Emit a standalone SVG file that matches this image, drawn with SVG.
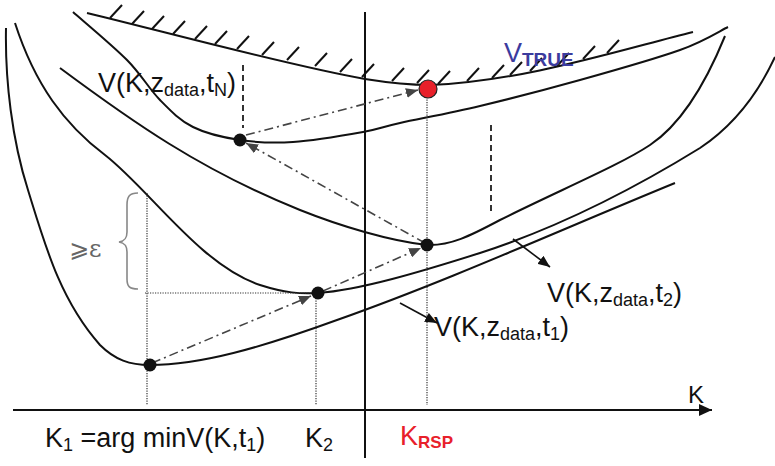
<svg xmlns="http://www.w3.org/2000/svg" width="775" height="466" viewBox="0 0 775 466">
<defs>
<marker id="ahg" viewBox="0 0 12 10" refX="12" refY="5" markerWidth="12" markerHeight="10" markerUnits="userSpaceOnUse" orient="auto"><path d="M0,0 L12,5 L0,10 z" fill="#444"/></marker>
<marker id="ahb" viewBox="0 0 12 10" refX="12" refY="5" markerWidth="12" markerHeight="10" markerUnits="userSpaceOnUse" orient="auto"><path d="M0,0 L12,5 L0,10 z" fill="#111"/></marker>
<marker id="aha" viewBox="0 0 13 12" refX="13" refY="6" markerWidth="13" markerHeight="12" markerUnits="userSpaceOnUse" orient="auto"><path d="M0,0 L13,6 L0,12 z" fill="#111"/></marker>
</defs>
<style>
.curve{fill:none;stroke:#111;stroke-width:2}
.axis{stroke:#111;stroke-width:2;fill:none}
.dd{fill:none;stroke:#444;stroke-width:1.6;stroke-dasharray:9 4 2 4}
.dotl{fill:none;stroke:#333;stroke-width:1.2;stroke-dasharray:1.2 1.3}
.dash{fill:none;stroke:#333;stroke-width:2;stroke-dasharray:6 4}
.hatch{stroke:#111;stroke-width:2}
.pt{fill:#111}
.t{font-family:"Liberation Sans",Arial,sans-serif;font-size:27px;fill:#111}
.s{font-size:18px}
.lab{stroke:#111;stroke-width:1.6;fill:none}
</style>

<g id="axes">
<line class="axis" x1="13" y1="410" x2="712" y2="410" marker-end="url(#aha)"/>
<line class="axis" x1="365" y1="12" x2="365" y2="458"/>
</g>

<g id="v-true">
<path class="curve" d="M87,13 C150,28 290,66 365,79 C390,83 410,85 430,85 C520,82 620,50 693,32"/>
<g id="hatches">
<line class="hatch" x1="110" y1="18" x2="122" y2="5"/>
<line class="hatch" x1="132" y1="24" x2="144" y2="11"/>
<line class="hatch" x1="152" y1="29" x2="164" y2="16"/>
<line class="hatch" x1="173" y1="34" x2="185" y2="21"/>
<line class="hatch" x1="195" y1="39" x2="207" y2="26"/>
<line class="hatch" x1="215" y1="44" x2="227" y2="31"/>
<line class="hatch" x1="237" y1="49" x2="249" y2="36"/>
<line class="hatch" x1="262" y1="55" x2="274" y2="42"/>
<line class="hatch" x1="287" y1="60" x2="299" y2="47"/>
<line class="hatch" x1="315" y1="66" x2="327" y2="53"/>
<line class="hatch" x1="340" y1="72" x2="352" y2="59"/>
<line class="hatch" x1="362" y1="77" x2="374" y2="64"/>
<line class="hatch" x1="392" y1="81" x2="404" y2="68"/>
<line class="hatch" x1="417" y1="83" x2="429" y2="70"/>
<line class="hatch" x1="438" y1="84" x2="450" y2="71"/>
<line class="hatch" x1="467" y1="81" x2="479" y2="68"/>
<line class="hatch" x1="492" y1="78" x2="504" y2="65"/>
<line class="hatch" x1="510" y1="75" x2="522" y2="62"/>
<line class="hatch" x1="530" y1="71" x2="542" y2="58"/>
<line class="hatch" x1="557" y1="66" x2="569" y2="53"/>
<line class="hatch" x1="583" y1="59" x2="595" y2="46"/>
<line class="hatch" x1="607" y1="53" x2="619" y2="40"/>
</g>
</g>

<g id="curve-tN">
<path class="curve" d="M73,12 C82,20 112.5,45.3 127,60 C141.5,74.7 149,88.8 160,100 C171,111.2 179.7,120.3 193,127 C206.3,133.7 223.3,137.5 240,140 C256.7,142.5 272.5,143.3 293,142 C313.5,140.7 345.2,135.2 363,132 C380.8,128.8 380.5,127.3 400,123 C419.5,118.7 450,113.2 480,106 C510,98.8 546.7,89.3 580,80 C613.3,70.7 655.3,58.8 680,50 C704.7,41.2 720,30.8 728,27"/>
</g>

<g id="curve-t3">
<path class="curve" d="M60,68 C130,120 200,170 300,210 C340,226 390,241 427,245 C450,246 470,236 500,220 C560,190 620,165 650,145 C680,125 705,85 725,36"/>
</g>

<g id="curve-t2">
<path class="curve" d="M15,23 C35,85 65,125 105,155 C150,190 200,265 260,285 C285,293 300,294 318,293 C360,290 420,272 480,253 C560,227 640,185 700,148 C730,128 755,100 775,57"/>
</g>

<g id="curve-t1">
<path class="curve" d="M6,28 C5,80 12,140 28,190 C45,245 60,300 100,345 C115,360 130,365 150,365 C200,365 260,348 337,320 C450,280 560,230 675,183"/>
</g>

<g id="guides">
<line class="dotl" x1="147" y1="193" x2="147" y2="405"/>
<line class="dotl" x1="145" y1="293" x2="316" y2="293"/>
<line class="dotl" x1="316" y1="293" x2="316" y2="405"/>
<line class="dotl" x1="427" y1="97" x2="427" y2="405"/>
<line class="dash" x1="243" y1="65" x2="243" y2="128"/>
<line class="dash" x1="491" y1="125" x2="491" y2="212"/>
</g>

<g id="connectors">
<line class="dd" x1="152" y1="363" x2="311" y2="296" marker-end="url(#ahg)"/>
<line class="dd" x1="323" y1="291" x2="421" y2="248" marker-end="url(#ahg)"/>
<line class="dd" x1="425" y1="243" x2="246" y2="143" marker-end="url(#ahg)"/>
<line class="dd" x1="246" y1="135" x2="418" y2="90" marker-end="url(#ahg)"/>
<line class="lab" x1="513" y1="239" x2="550" y2="267" marker-end="url(#ahb)"/>
<line class="lab" x1="400" y1="303" x2="437" y2="323" marker-end="url(#ahb)"/>
</g>

<g id="points">
<circle class="pt" cx="150" cy="365" r="6.5"/>
<circle class="pt" cx="318" cy="293" r="6.5"/>
<circle class="pt" cx="427" cy="245" r="6.5"/>
<circle class="pt" cx="240" cy="140" r="6.5"/>
<circle cx="428" cy="89" r="9" fill="#e8202a" stroke="#222" stroke-width="1.2"/>
</g>

<g id="brace">
<path d="M138,193 C129,193 127,197 127,205 L127,232 C127,238 125,241 119,242 C125,243 127,246 127,252 L127,279 C127,286 129,289 138,289" fill="none" stroke="#888" stroke-width="1.6"/>
<text x="69" y="257" font-size="24" fill="#666"><tspan font-family="DejaVu Sans, sans-serif">⩾</tspan><tspan font-family="DejaVu Serif, serif">ε</tspan></text>
</g>

<g id="labels">
<text class="t" x="98" y="92">V(K,z<tspan class="s" dy="4">data</tspan><tspan dy="-4">,t</tspan><tspan class="s" dy="4">N</tspan><tspan dy="-4">)</tspan></text>
<text class="t" x="547" y="302">V(K,z<tspan class="s" dy="4">data</tspan><tspan dy="-4">,t</tspan><tspan class="s" dy="4">2</tspan><tspan dy="-4">)</tspan></text>
<text class="t" x="434" y="336">V(K,z<tspan class="s" dy="4">data</tspan><tspan dy="-4">,t</tspan><tspan class="s" dy="4">1</tspan><tspan dy="-4">)</tspan></text>
<text class="t" x="504" y="62" fill="#3b3b9e" style="fill:#3b3b9e">V<tspan font-size="19" font-weight="bold" dy="4">TRUE</tspan></text>
<text class="t" x="688" y="403" font-size="24" style="font-size:24px">K</text>
<text class="t" x="45" y="447">K<tspan class="s" dy="4">1</tspan><tspan dy="-4"> =arg minV(K,t</tspan><tspan class="s" dy="4">1</tspan><tspan dy="-4">)</tspan></text>
<text class="t" x="305" y="447">K<tspan class="s" dy="4">2</tspan></text>
<text class="t" x="400" y="445" style="fill:#e8202a">K<tspan font-size="17" font-weight="bold" dy="3">RSP</tspan></text>
</g>
</svg>
